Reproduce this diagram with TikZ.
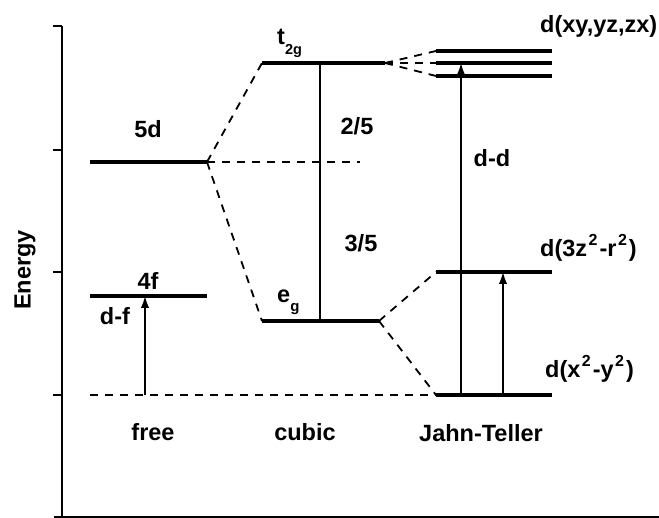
\documentclass[tikz,border=0pt]{standalone}
\usepackage{fontspec}
\setmainfont{Liberation Sans}
\usetikzlibrary{arrows.meta}
\newcommand{\supii}{\hspace{1.5pt}\raisebox{0.5em}{\fontsize{16}{16}\selectfont 2}\hspace{2pt}}
\begin{document}
\begin{tikzpicture}[x=1pt,y=-1pt,
  lev/.style={line width=3.2pt},
  dsh/.style={line width=1.8pt, dash pattern=on 8pt off 7pt},
  conn/.style={line width=1.8pt},
  arr/.style={line width=1.8pt,-{Latex[length=12pt,width=8.5pt]}},
  axisline/.style={line width=2pt},
  lbl/.style={font=\fontsize{23.5}{26}\selectfont\bfseries, inner sep=0pt}]
\useasboundingbox (0,0) rectangle (659,518);
% axes
\coordinate (axT) at (62,26);
\coordinate (axO) at (62,517);
\coordinate (axR) at (659,517);
\draw[axisline] (axT) -- (axO);
\draw[axisline] (54,517) -- (axR);
\foreach \y in {26,150,272,395} \draw[axisline] (53,\y) -- (62,\y);
\foreach \x in {180,301,422,543} \draw[line width=1pt] (\x,517) -- (\x,515.5);
\node[lbl, rotate=90] (energy) at (25,270) {Energy};
% coordinates
\coordinate (fdL) at (90,162); \coordinate (fdR) at (207,162);
\coordinate (ffL) at (90,296); \coordinate (ffR) at (207,296);
\coordinate (baseL) at (90,395);
\coordinate (dR) at (360,162);
\coordinate (t2L) at (262,63); \coordinate (t2R) at (385,63);
\coordinate (egL) at (262,321); \coordinate (egR) at (379,321);
\coordinate (jaL) at (436,51); \coordinate (jaR) at (552,51);
\coordinate (jbL) at (436,63); \coordinate (jbR) at (552,63);
\coordinate (jcL) at (436,76); \coordinate (jcR) at (552,76);
\coordinate (zL) at (436,272); \coordinate (zR) at (552,272);
\coordinate (xL) at (436,395); \coordinate (xR) at (552,395);
% levels
\draw[lev] (fdL) -- (fdR);
\draw[lev] (ffL) -- (ffR);
\draw[lev] (t2L) -- (t2R);
\draw[lev] (egL) -- (egR);
\draw[lev] (jaL) -- (jaR);
\draw[lev] (jbL) -- (jbR);
\draw[lev] (jcL) -- (jcR);
\draw[lev] (zL) -- (zR);
\draw[lev] (xL) -- (xR);
% dashed correlation lines
\draw[dsh] (fdR) -- (t2L);
\draw[dsh] (fdR) -- (egL);
\draw[dsh] (fdR) -- (dR);
\draw[dsh] (baseL) -- (xL);
\draw[dsh] (egR) -- (zL);
\draw[dsh] (egR) -- (xL);
\draw[dsh] (t2R) -- (jaL);
\draw[dsh] (t2R) -- (jbL);
\draw[dsh] (t2R) -- (jcL);
% splitting line
\coordinate (c1) at (320,63); \coordinate (c2) at (320,321);
\draw[conn] (c1) -- (c2);
% transitions
\coordinate (dfA) at (145,395); \coordinate (dfB) at (145,296);
\draw[arr] (dfA) -- (dfB);
\coordinate (ddA) at (461,395); \coordinate (ddB) at (461,63);
\draw[arr] (ddA) -- (ddB);
\coordinate (zzA) at (503,395); \coordinate (zzB) at (503,272);
\draw[arr] (zzA) -- (zzB);
% labels
\node[lbl] (l5d) at (148,129) {5d};
\node[lbl] (l4f) at (148,281) {4f};
\node[lbl] (ldf) at (115,316) {d-f};
\node[lbl, anchor=base west] (lt2g) at (277,45) {t\raisebox{-10pt}{\fontsize{14.5}{15}\selectfont 2g}};
\node[lbl, anchor=base west] (leg) at (277,303) {e\raisebox{-9pt}{\fontsize{15}{15}\selectfont g}};
\node[lbl] (l25) at (357,126) {2/5};
\node[lbl] (l35) at (361,243) {3/5};
\node[lbl] (ldd) at (492,158) {d-d};
\node[lbl, anchor=west] (lxy) at (540,26) {d(xy,yz,zx)};
\node[lbl, anchor=base west] (lz2) at (540,257) {d(3z\supii-r\supii)};
\node[lbl, anchor=base west] (lx2) at (545,378) {d(x\supii-y\supii)};
\node[lbl] (lfree) at (153,432) {free};
\node[lbl] (lcubic) at (305,432) {cubic};
\node[lbl] (ljt) at (481,433) {Jahn-Teller};
\end{tikzpicture}
\end{document}
